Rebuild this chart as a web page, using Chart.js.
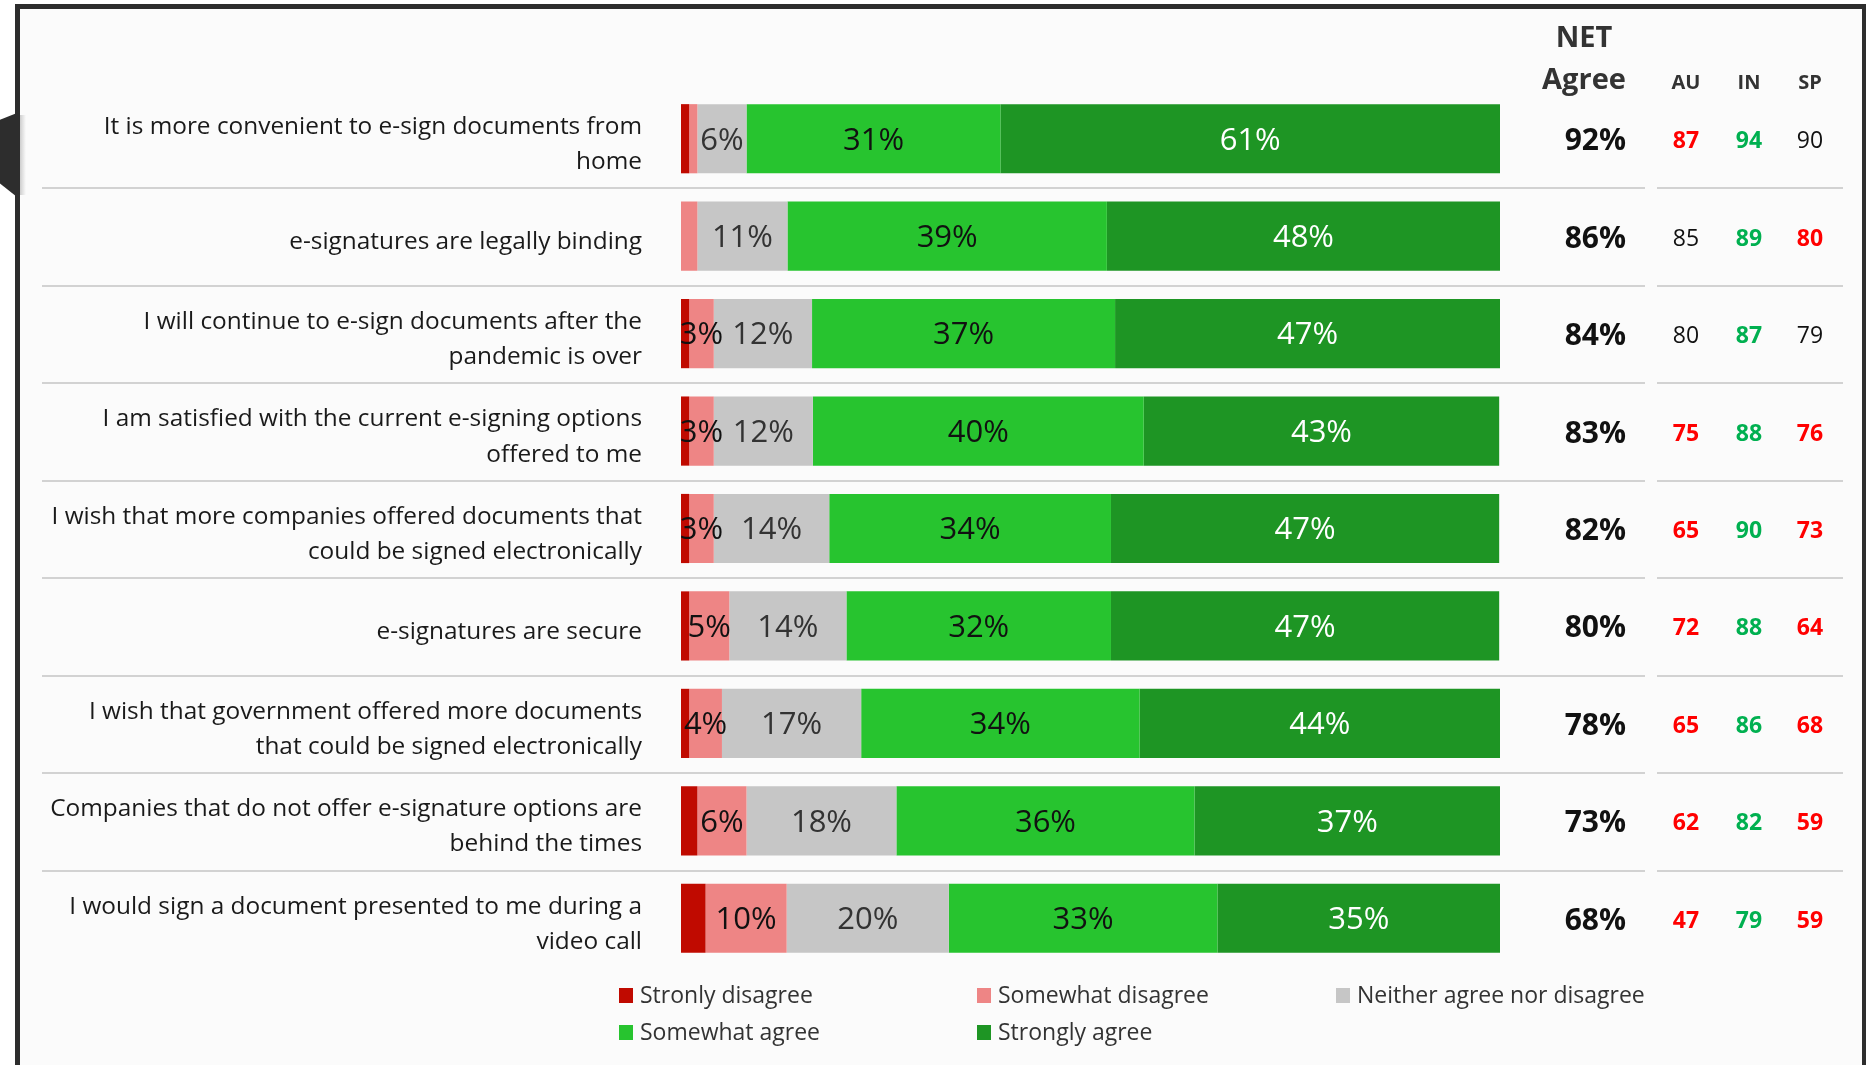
<!DOCTYPE html>
<html>
<head>
<meta charset="utf-8">
<script src="https://cdn.jsdelivr.net/npm/chart.js@4/dist/chart.umd.min.js"></script>
<style>
  html, body { margin: 0; padding: 0; background: #fff; overflow: hidden; }
  #frame {
    position: absolute; left: 15px; top: 4px; width: 1842px; height: 1100px;
    border-left: 5px solid #2d2d2d; border-top: 5px solid #2d2d2d; border-right: 4px solid #2d2d2d;
    background: #fbfbfb;
  }
  #tab {
    position: absolute; left: 0; top: 113px; width: 17px; height: 84px;
    background: #2d2d2d; clip-path: polygon(0 8%, 100% 0, 100% 100%, 0 84%);
  }
  #tabShadow {
    position: absolute; left: 20px; top: 115px; width: 6px; height: 80px;
    background: linear-gradient(to right, rgba(0,0,0,0.18), rgba(0,0,0,0));
  }
  canvas { position: absolute; left: 0; top: 0; }
</style>
</head>
<body>
<div id="frame"></div>
<div id="tab"></div>
<div id="tabShadow"></div>
<canvas id="chart" width="1868" height="1065"></canvas>
<script>
"use strict";

const categories = [
  ["It is more convenient to e-sign documents from", "home"],
  "e-signatures are legally binding",
  ["I will continue to e-sign documents after the", "pandemic is over"],
  ["I am satisfied with the current e-signing options", "offered to me"],
  ["I wish that more companies offered documents that", "could be signed electronically"],
  "e-signatures are secure",
  ["I wish that government offered more documents", "that could be signed electronically"],
  ["Companies that do not offer e-signature options are", "behind the times"],
  ["I would sign a document presented to me during a", "video call"],
];

const seriesNames = [
  "Stronly disagree",
  "Somewhat disagree",
  "Neither agree nor disagree",
  "Somewhat agree",
  "Strongly agree",
];

// segment shares; labels show them rounded
const stronglyDisagree = [1, 0, 1, 1, 1, 1, 1, 2, 3];
const somewhatDisagree = [1, 2, 3, 3, 3, 4.9, 4, 6, 9.9];
const neither = [6, 11, 12, 12.1, 14.1, 14.3, 17, 18.3, 19.8];
const somewhatAgree = [31, 39, 37, 40.4, 34.4, 32.3, 34, 36.4, 32.8];
const stronglyAgree = [61, 48, 47, 43.4, 47.4, 47.4, 44, 37.3, 34.5];

const netAgree = [92, 86, 84, 83, 82, 80, 78, 73, 68];

const countries = ["AU", "IN", "SP"];
const au = [87, 85, 80, 75, 65, 72, 65, 62, 47];
const ind = [94, 89, 87, 88, 90, 88, 86, 82, 79];
const sp = [90, 80, 79, 76, 73, 64, 68, 59, 59];
// 1 = higher than total, -1 = lower, 0 = same
const auSig = [-1, 0, 0, -1, -1, -1, -1, -1, -1];
const indSig = [1, 1, 1, 1, 1, 1, 1, 1, 1];
const spSig = [0, -1, 0, -1, -1, -1, -1, -1, -1];

const colors = ["#c00a00", "#ee8585", "#c6c6c6", "#27c42f", "#1e9524"];
const labelColors = ["#111", "#111", "#333", "#111", "#ffffff"];
const sigColors = { "-1": "#ff0000", "0": "#111111", "1": "#00b050" };

const FONT = "'Open Sans', 'Noto Sans', sans-serif";

const seriesData = [stronglyDisagree, somewhatDisagree, neither, somewhatAgree, stronglyAgree];

const segmentLabels = {
  id: "segmentLabels",
  afterDatasetsDraw(chart) {
    const ctx = chart.ctx;
    ctx.save();
    ctx.font = "31px " + FONT;
    ctx.textAlign = "center";
    ctx.textBaseline = "middle";
    chart.data.datasets.forEach((ds, d) => {
      if (d === 0) return;
      chart.getDatasetMeta(d).data.forEach((bar, i) => {
        const v = ds.data[i];
        if (v < 3) return;
        const p = bar.getCenterPoint();
        ctx.fillStyle = labelColors[d];
        ctx.fillText(Math.round(v) + "%", p.x, p.y + 2);
      });
    });
    ctx.restore();
  },
};

const sideTable = {
  id: "sideTable",
  afterDraw(chart) {
    const ctx = chart.ctx;
    const y = chart.scales.y;
    ctx.save();

    // row separators
    ctx.strokeStyle = "#d2d2d2";
    ctx.lineWidth = 2;
    for (let i = 0; i < categories.length - 1; i++) {
      const sy = Math.round((y.getPixelForValue(i) + y.getPixelForValue(i + 1)) / 2) + 1;
      ctx.beginPath();
      ctx.moveTo(42, sy); ctx.lineTo(1645, sy);
      ctx.moveTo(1657, sy); ctx.lineTo(1843, sy);
      ctx.stroke();
    }

    // headers
    ctx.fillStyle = "#333";
    ctx.textAlign = "center";
    ctx.textBaseline = "alphabetic";
    ctx.font = "bold 29px " + FONT;
    ctx.fillText("NET", 1584, 47);
    ctx.fillText("Agree", 1584, 89);
    const cx = [1686, 1749, 1810];
    ctx.font = "bold 20px " + FONT;
    countries.forEach((c, k) => ctx.fillText(c, cx[k], 89));

    // values
    ctx.textBaseline = "middle";
    const cols = [[au, auSig], [ind, indSig], [sp, spSig]];
    categories.forEach((_, i) => {
      const py = y.getPixelForValue(i) + 3;
      ctx.textAlign = "right";
      ctx.fillStyle = "#111";
      ctx.font = "bold 30px " + FONT;
      ctx.fillText(netAgree[i] + "%", 1626, py);
      ctx.textAlign = "center";
      cols.forEach(([vals, sig], k) => {
        const s = sig[i];
        ctx.fillStyle = sigColors[s];
        ctx.font = (s === 0 ? "" : "bold ") + "23px " + FONT;
        ctx.fillText(String(vals[i]), cx[k], py);
      });
    });

    // legend
    const lx = [619, 977, 1336];
    const ly = [995, 1032];
    ctx.font = "23px " + FONT;
    ctx.textAlign = "left";
    chart.data.datasets.forEach((ds, d) => {
      const x = lx[d % 3];
      const yy = ly[Math.floor(d / 3)];
      ctx.fillStyle = ds.backgroundColor;
      ctx.fillRect(x, yy - 7, 14, 15);
      ctx.fillStyle = "#333";
      ctx.fillText(ds.label, x + 21, yy + 1);
    });

    ctx.restore();
  },
};

new Chart(document.getElementById("chart"), {
  type: "bar",
  data: {
    labels: categories,
    datasets: seriesData.map((data, d) => ({
      label: seriesNames[d],
      data: data,
      backgroundColor: colors[d],
      borderWidth: 0,
      categoryPercentage: 1,
      barPercentage: 0.71,
    })),
  },
  options: {
    indexAxis: "y",
    responsive: false,
    devicePixelRatio: 1,
    animation: false,
    layout: { padding: { left: 20, right: 368, top: 90, bottom: 98 } },
    plugins: {
      legend: { display: false },
      tooltip: { enabled: false },
    },
    scales: {
      x: { stacked: true, min: 0, max: 100, display: false },
      y: {
        stacked: true,
        grid: { display: false, drawTicks: false },
        border: { display: false },
        afterFit: (scale) => { scale.width = 661; },
        ticks: {
          padding: 39,
          labelOffset: 6,
          color: "#1a1a1a",
          font: { family: FONT, size: 24.4, lineHeight: 1.45 },
        },
      },
    },
  },
  plugins: [segmentLabels, sideTable],
});
</script>
</body>
</html>
